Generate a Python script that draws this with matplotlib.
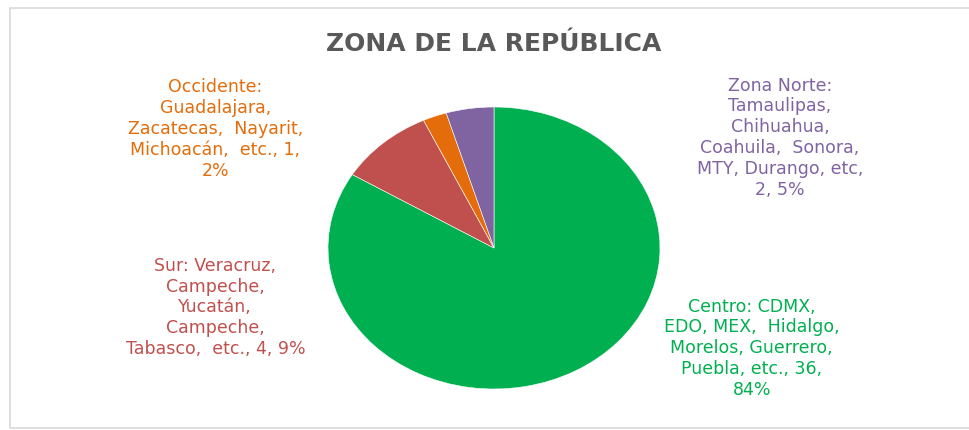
import matplotlib
matplotlib.use("Agg")
import matplotlib.pyplot as plt
from matplotlib.patches import Rectangle

title = "ZONA DE LA REPÚBLICA"
regions = [
    "Centro: CDMX,\nEDO, MEX,  Hidalgo,\nMorelos, Guerrero,\nPuebla, etc.",
    "Sur: Veracruz,\nCampeche,\nYucatán,\nCampeche,\nTabasco,  etc.",
    "Occidente:\nGuadalajara,\nZacatecas,  Nayarit,\nMichoacán,  etc.",
    "Zona Norte:\nTamaulipas,\nChihuahua,\nCoahuila,  Sonora,\nMTY, Durango, etc",
]
counts = [36, 4, 1, 2]
colors = ["#00B050", "#C0504D", "#E46C0A", "#8064A2"]

# label anchor points (figure fraction) for each region's text block
label_pos = [(0.775, 0.19), (0.222, 0.285), (0.222, 0.70), (0.804, 0.68)]

fig = plt.figure(figsize=(9.7, 4.3), dpi=100)
fig.patch.set_facecolor("white")

# chart frame
fig.add_artist(Rectangle((10 / 970, 2 / 430), 1.2, 420 / 430,
                         transform=fig.transFigure, fill=False,
                         edgecolor="#d9d9d9", linewidth=1.2))

ax = fig.add_axes([328 / 970, 41 / 430, 332 / 970, 282 / 430])
ax.pie(counts, colors=colors, startangle=90, counterclock=False,
       wedgeprops=dict(linewidth=0.4, edgecolor="white"))
ax.set_aspect("auto")
ax.set_xlim(-1, 1)
ax.set_ylim(-1, 1)
ax.axis("off")

total = sum(counts)
label_lines = []
for name, v in zip(regions, counts):
    pct = round(100 * v / total)
    if name.startswith("Sur"):
        txt = f"{name}, {v}, {pct}%"
    elif name.startswith("Zona"):
        txt = f"{name},\n{v}, {pct}%"
    else:
        txt = f"{name}, {v},\n{pct}%"
    label_lines.append(txt)

for txt, (x, y), c in zip(label_lines, label_pos, colors):
    fig.text(x, y, txt, ha="center", va="center", color=c,
             fontsize=12.5, family="DejaVu Sans", linespacing=1.2)

fig.text(0.509, 0.898, title, ha="center", va="center", color="#595959",
         fontsize=18, fontweight="bold", family="DejaVu Sans")

fig.savefig("out.png", dpi=100, facecolor="white")
